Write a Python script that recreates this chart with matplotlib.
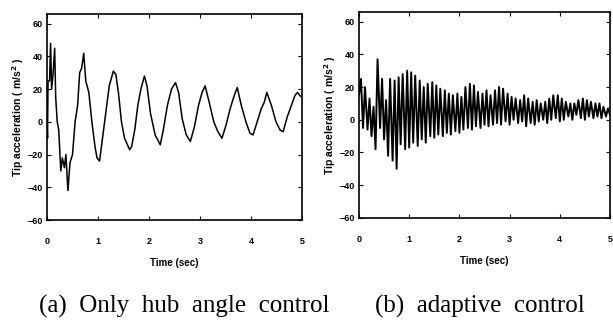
import numpy as np
import matplotlib.pyplot as plt

# (a) only hub angle control: tip acceleration
t_a = [0.00, 0.01, 0.02, 0.05, 0.07, 0.09, 0.12, 0.15, 0.17, 0.20,
       0.23, 0.27, 0.30, 0.34, 0.37, 0.41, 0.45, 0.50, 0.55, 0.60,
       0.64, 0.68, 0.72, 0.76, 0.82, 0.88, 0.94, 0.98, 1.03, 1.08,
       1.15, 1.22, 1.30, 1.35, 1.40, 1.46, 1.52, 1.62, 1.66, 1.72,
       1.78, 1.84, 1.91, 1.96, 2.03, 2.12, 2.22, 2.28, 2.36, 2.44,
       2.52, 2.58, 2.65, 2.73, 2.81, 2.89, 2.97, 3.04, 3.10, 3.18,
       3.27, 3.35, 3.43, 3.51, 3.59, 3.67, 3.73, 3.81, 3.90, 3.98,
       4.04, 4.12, 4.20, 4.26, 4.31, 4.40, 4.49, 4.57, 4.63, 4.71,
       4.79, 4.86, 4.91, 4.96, 5.00]
acc_a = [0, -10, 25, 25, 48, 20, 30, 45, 15, 0,
         -5, -30, -22, -28, -20, -42, -25, -20, 0, 10,
         30, 33, 42, 25, 18, 0, -15, -22, -24, -12,
         5, 22, 31, 29, 18, 0, -10, -17, -15, -5,
         10, 20, 28, 22, 5, -8, -14, -5, 10, 20,
         24, 18, 2, -8, -12, -3, 10, 18, 22, 12,
         0, -6, -10, -2, 8, 16, 21, 10, 0, -7,
         -8, 0, 8, 12, 18, 10, 0, -5, -6, 3,
         10, 16, 18, 16, 15]

# (b) adaptive control: peak / trough of each vibration stroke
t_b = [0.00,
       0.04, 0.08, 0.12, 0.17, 0.21, 0.25, 0.29, 0.33, 0.37, 0.42, 0.46, 0.50,
       0.54, 0.58, 0.62, 0.67, 0.71, 0.75, 0.79, 0.83, 0.87, 0.92, 0.96, 1.00,
       1.04, 1.08, 1.12, 1.17, 1.21, 1.25, 1.29, 1.33, 1.37, 1.42, 1.46, 1.50,
       1.54, 1.58, 1.62, 1.67, 1.71, 1.75, 1.79, 1.83, 1.87, 1.92, 1.96, 2.00,
       2.04, 2.08, 2.12, 2.17, 2.21, 2.25, 2.29, 2.33, 2.37, 2.42, 2.46, 2.50,
       2.54, 2.58, 2.62, 2.67, 2.71, 2.75, 2.79, 2.83, 2.87, 2.92, 2.96, 3.00,
       3.04, 3.08, 3.12, 3.17, 3.21, 3.25, 3.29, 3.33, 3.37, 3.42, 3.46, 3.50,
       3.54, 3.58, 3.62, 3.67, 3.71, 3.75, 3.79, 3.83, 3.87, 3.92, 3.96, 4.00,
       4.04, 4.08, 4.12, 4.17, 4.21, 4.25, 4.29, 4.33, 4.37, 4.42, 4.46, 4.50,
       4.54, 4.58, 4.62, 4.67, 4.71, 4.75, 4.79, 4.83, 4.87, 4.92, 4.96, 5.00]
acc_b = [15,
         25, -5, 20, -6, 13, -10, 8, -18, 37, -5, 25, -12,
         12, -22, 25, -25, 24, -30, 26, -15, 28, -18, 30, -17,
         29, -14, 27, -16, 24, -12, 20, -14, 22, -10, 23, -11,
         21, -9, 19, -10, 18, -8, 16, -9, 15, -7, 16, -8,
         14, -6, 20, -5, 22, -6, 21, -4, 17, -5, 16, -3,
         18, -4, 15, -3, 18, -2, 20, -3, 19, -1, 16, -3,
         14, 0, 13, -2, 12, -1, 15, -4, 13, -2, 11, -3,
         12, -1, 10, 0, 11, -2, 13, 0, 15, 1, 15, -1,
         13, 0, 11, 2, 10, 0, 10, 3, 12, 1, 13, 0,
         12, 2, 11, 1, 10, 2, 10, 1, 8, 2, 7, 3]

x_ticks = [0, 1, 2, 3, 4, 5]
y_ticks = [-60, -40, -20, 0, 20, 40, 60]
captions = ['(a)  Only  hub  angle  control', '(b)  adaptive  control']

plt.rcParams['font.family'] = ['Liberation Sans', 'DejaVu Sans']

fig = plt.figure(figsize=(6.13, 3.2), dpi=100)
ax_a = fig.add_axes([0.0767, 0.3125, 0.416, 0.644])
ax_b = fig.add_axes([0.5856, 0.319, 0.4095, 0.644])

series = [(ax_a, t_a, acc_a, 1.1), (ax_b, t_b, acc_b, 1.4)]
for ax, t, acc, lw in series:
    ax.plot(t, acc, color='black', lw=lw)
    ax.set_xlim(0, 5)
    ax.set_ylim(-60, 66)
    ax.set_xticks(x_ticks)
    ax.set_yticks(y_ticks)
    ax.tick_params(direction='in', length=3, width=0.8, top=True, right=True,
                   labelsize=6.5)
    ax.tick_params(axis='x', pad=12)
    ax.tick_params(axis='y', pad=3)
    for lab in ax.get_xticklabels() + ax.get_yticklabels():
        lab.set_fontweight('bold')
    for sp in ax.spines.values():
        sp.set_linewidth(1.2)
    ax.set_xlabel('Time (sec)', fontsize=7, fontweight='bold', labelpad=9)
    ax.set_ylabel('Tip acceleration ( m/s$^\\mathbf{2}$ )', fontsize=7.5,
                  fontweight='bold', labelpad=1)

serif = ['Liberation Serif', 'DejaVu Serif']
fig.text(0.301, 0.022, captions[0], ha='center', va='baseline',
         fontsize=18, family=serif)
fig.text(0.783, 0.022, captions[1], ha='center', va='baseline',
         fontsize=18, family=serif)

fig.savefig('out.png', dpi=100)
